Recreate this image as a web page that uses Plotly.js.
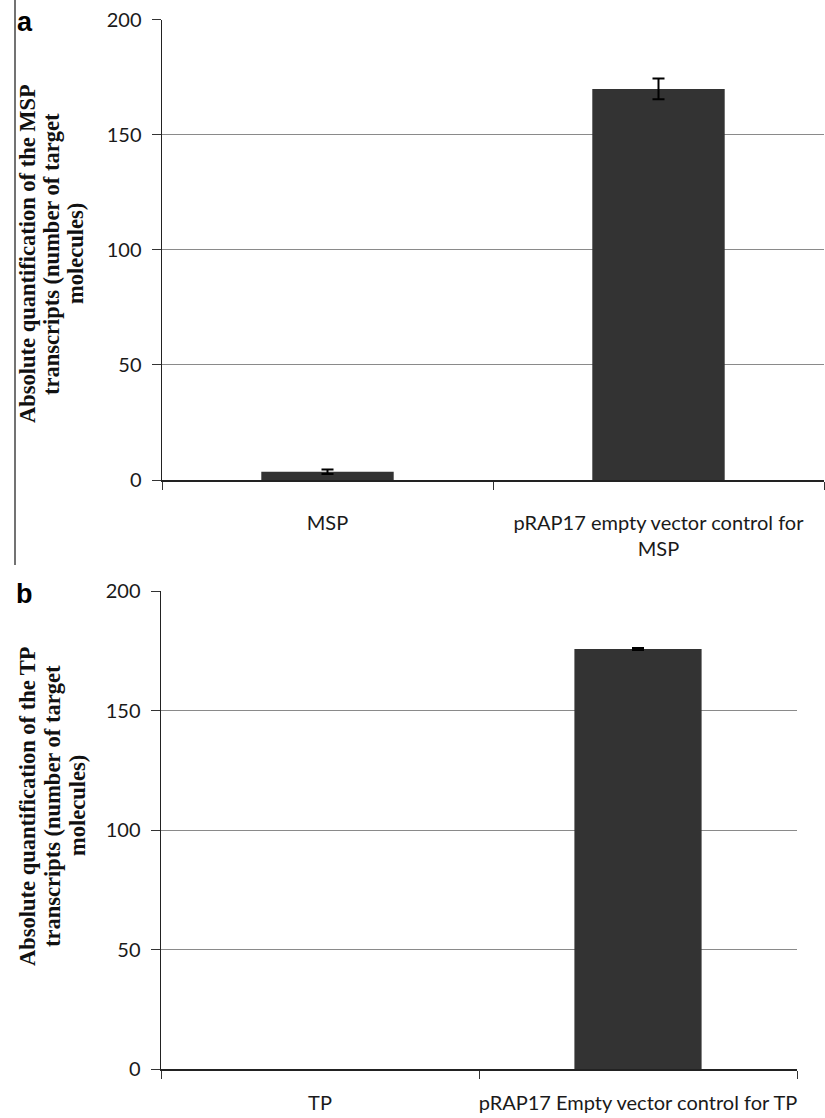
<!DOCTYPE html>
<html>
<head>
<meta charset="utf-8">
<script src="https://cdn.plot.ly/plotly-3.0.1.min.js"></script>
<style>html,body{margin:0;padding:0;background:#fff;}#chart{width:825px;height:1118px;}</style>
</head>
<body>
<div id="chart"></div>
<script>
// Panel a data
var catsA = ["MSP", "pRAP17 empty vector control for MSP"];
var tickTextA = ["MSP", "pRAP17 empty vector control for<br>MSP"];
var valsA = [3.6, 169.9];
var errA = [1.0, 4.5];
// Panel b data
var catsB = ["TP", "pRAP17 Empty vector control for TP"];
var tickTextB = ["TP", "pRAP17 Empty vector control for TP"];
var valsB = [0, 175.7];
var errB = [NaN, 0.4];
// Shared y ticks
var yTicks = [0, 50, 100, 150, 200];

var barColor = '#333333';
var errStyle = {type: 'data', visible: true, color: '#000000', thickness: 2, width: 6};

var traceA = {
  type: 'bar', x: catsA, y: valsA, xaxis: 'x', yaxis: 'y',
  marker: {color: barColor, line: {width: 0}},
  error_y: Object.assign({array: errA}, errStyle),
  hoverinfo: 'none', showlegend: false
};
var traceB = {
  type: 'bar', x: catsB, y: valsB, xaxis: 'x2', yaxis: 'y2',
  marker: {color: barColor, line: {width: 0}},
  error_y: Object.assign({array: errB}, errStyle),
  hoverinfo: 'none', showlegend: false
};

var tickFont = {family: 'Lato, "Open Sans", sans-serif', size: 20, color: '#1a1a1a'};

function xAxis(domain, anchor, cats, texts, standoff) {
  return {
    domain: domain, anchor: anchor, type: 'category',
    tickmode: 'array', tickvals: cats, ticktext: texts, tickangle: 0,
    tickson: 'boundaries', ticks: 'outside', ticklen: 8, tickwidth: 1, tickcolor: '#333333',
    showline: true, linecolor: '#222222', linewidth: 1.5,
    showgrid: false, zeroline: false,
    tickfont: tickFont, ticklabelstandoff: standoff,
    fixedrange: true
  };
}
function yAxis(domain, anchor) {
  return {
    domain: domain, anchor: anchor, range: [0, 200],
    tickmode: 'array', tickvals: yTicks, ticktext: yTicks.map(String),
    ticks: 'outside', ticklen: 9, tickwidth: 1, tickcolor: '#333333',
    showline: true, linecolor: '#222222', linewidth: 1.5,
    showgrid: true, gridcolor: '#8a8a8a', gridwidth: 1,
    zeroline: false,
    tickfont: tickFont, ticklabelstandoff: 6,
    fixedrange: true
  };
}

var titleFont = {family: '"Liberation Serif", "Times New Roman", serif', size: 22.5, color: '#111111'};
var titleA = ["Absolute quantification of the MSP", "transcripts (number of target", "molecules)"];
var titleB = ["Absolute quantification of the TP", "transcripts (number of target", "molecules)"];
var W = 825, H = 1118;
var annots = [];
var xsA = [27, 51, 75], xsB = [28, 53, 78];
titleA.forEach(function (t, i) {
  annots.push({text: '<b>' + t + '</b>', xref: 'paper', yref: 'paper', x: xsA[i] / W, y: 1 - 254 / H,
    xanchor: 'center', yanchor: 'middle', textangle: -90, showarrow: false, font: titleFont});
});
titleB.forEach(function (t, i) {
  annots.push({text: '<b>' + t + '</b>', xref: 'paper', yref: 'paper', x: xsB[i] / W, y: 1 - 806 / H,
    xanchor: 'center', yanchor: 'middle', textangle: -90, showarrow: false, font: titleFont});
});
var panelFont = {family: '"Liberation Sans", Arial, sans-serif', size: 27, color: '#000000'};
annots.push({text: '<b>a</b>', xref: 'paper', yref: 'paper', x: 25 / W, y: 1 - 22 / H,
  xanchor: 'center', yanchor: 'middle', showarrow: false, font: panelFont});
annots.push({text: '<b>b</b>', xref: 'paper', yref: 'paper', x: 24 / W, y: 1 - 594 / H,
  xanchor: 'center', yanchor: 'middle', showarrow: false, font: panelFont});

var layout = {
  width: W, height: H,
  margin: {l: 0, r: 0, t: 0, b: 0, pad: 0},
  paper_bgcolor: '#ffffff', plot_bgcolor: '#ffffff',
  bargap: 0.6,
  showlegend: false,
  xaxis: xAxis([162 / W, 824 / W], 'y', catsA, tickTextA, 24),
  yaxis: yAxis([1 - 480 / H, 1 - 19.6 / H], 'x'),
  xaxis2: xAxis([161 / W, 797 / W], 'y2', catsB, tickTextB, 15),
  yaxis2: yAxis([1 - 1069 / H, 1 - 591 / H], 'x2'),
  annotations: annots,
  shapes: [{type: 'line', xref: 'paper', yref: 'paper', x0: 15 / W, x1: 15 / W, y0: 1, y1: 1 - 565 / H,
    line: {color: '#444444', width: 1.5}}]
};

Plotly.newPlot('chart', [traceA, traceB], layout, {staticPlot: true, displayModeBar: false});
</script>
</body>
</html>
